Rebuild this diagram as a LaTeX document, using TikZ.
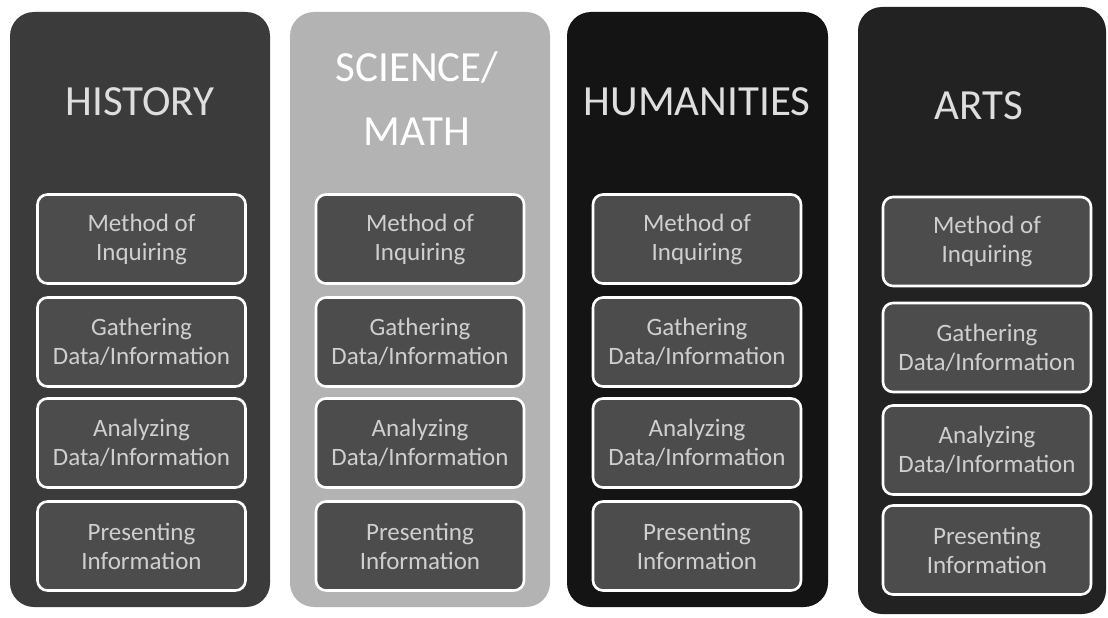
\documentclass[tikz,border=0pt]{standalone}
\usepackage{fontspec}
\setmainfont{Carlito}
\definecolor{histGray}{HTML}{3B3B3B}
\definecolor{sciGray}{HTML}{B3B3B3}
\definecolor{humGray}{HTML}{141414}
\definecolor{artGray}{HTML}{222222}
\definecolor{boxGray}{HTML}{4C4C4C}
\definecolor{textGray}{HTML}{CFCFCF}
\definecolor{titleGray}{HTML}{DEDEDE}
\begin{document}
\begin{tikzpicture}[x=1pt, y=-1pt,
    columnStyle/.style={rectangle, rounded corners=24pt, minimum width=260pt, minimum height=595pt, inner sep=0pt},
    titleStyle/.style={text=titleGray, font=\fontsize{43}{52}\selectfont, align=center},
    stepStyle/.style={rectangle, rounded corners=10pt, draw=white, line width=2.6pt, fill=boxGray, text=textGray,
        minimum width=208pt, minimum height=89pt, inner sep=2pt, align=center, font=\fontsize{25}{29}\selectfont}]
    \useasboundingbox[fill=white] (0,0) rectangle (1108,618);

    % columns
    \node[columnStyle, fill=histGray](history) at (140, 309.5) {};
    \node[columnStyle, fill=sciGray](science) at (420, 309.5) {};
    \node[columnStyle, fill=humGray, minimum width=261pt](humanities) at (697.5, 309.5) {};
    \node[columnStyle, fill=artGray, minimum width=248pt, minimum height=607pt](arts) at (982, 310.5) {};

    % titles
    \node[titleStyle](historyTitle) at (140, 102) {HISTORY};
    \node[titleStyle, text=white](scienceTitle) at (417, 99) {SCIENCE/\\[12pt]MATH};
    \node[titleStyle](humanitiesTitle) at (697, 102) {HUMANITIES};
    \node[titleStyle](artsTitle) at (979, 106) {ARTS};

    % history steps
    \node[stepStyle](h1) at (141.5, 239) {Method of\\Inquiring};
    \node[stepStyle](h2) at (141.5, 342) {Gathering\\Data/Information};
    \node[stepStyle](h3) at (141.5, 443) {Analyzing\\Data/Information};
    \node[stepStyle](h4) at (141.5, 546) {Presenting\\Information};

    % science steps
    \node[stepStyle](s1) at (420, 239) {Method of\\Inquiring};
    \node[stepStyle](s2) at (420, 342) {Gathering\\Data/Information};
    \node[stepStyle](s3) at (420, 443) {Analyzing\\Data/Information};
    \node[stepStyle](s4) at (420, 546) {Presenting\\Information};

    % humanities steps
    \node[stepStyle](u1) at (697, 239) {Method of\\Inquiring};
    \node[stepStyle](u2) at (697, 342) {Gathering\\Data/Information};
    \node[stepStyle](u3) at (697, 443) {Analyzing\\Data/Information};
    \node[stepStyle](u4) at (697, 546) {Presenting\\Information};

    % arts steps
    \node[stepStyle](a1) at (987, 241.5) {Method of\\Inquiring};
    \node[stepStyle](a2) at (987, 347.5) {Gathering\\Data/Information};
    \node[stepStyle](a3) at (987, 450) {Analyzing\\Data/Information};
    \node[stepStyle](a4) at (987, 550) {Presenting\\Information};
\end{tikzpicture}
\end{document}
